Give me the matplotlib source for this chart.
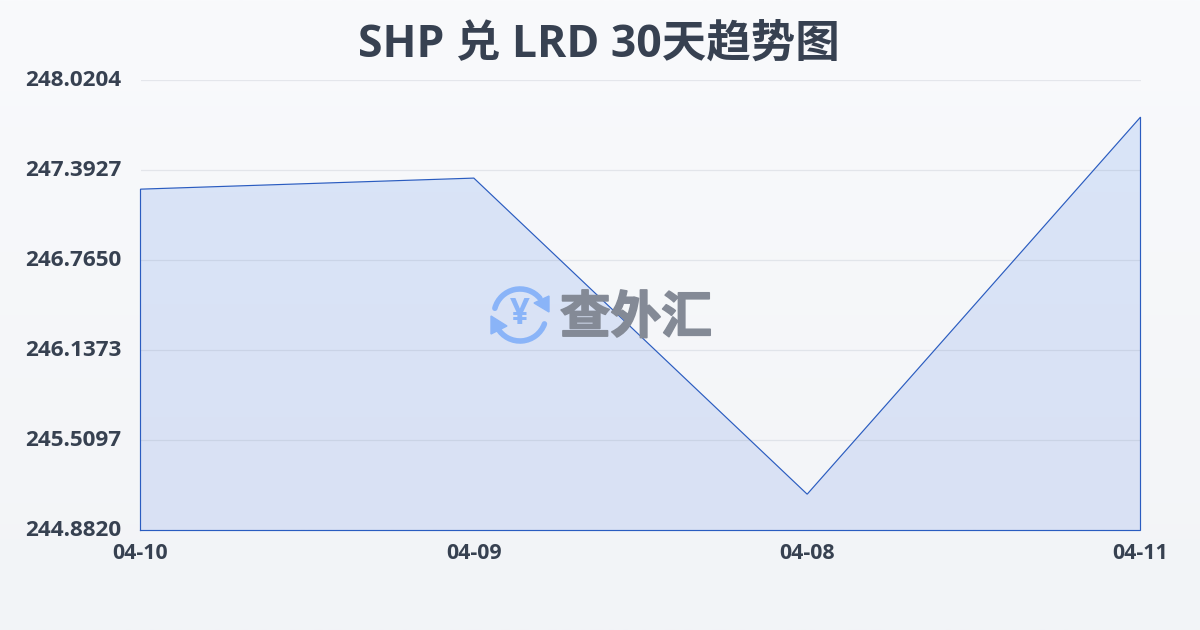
import numpy as np
import matplotlib
matplotlib.use("Agg")
import matplotlib.pyplot as plt
import matplotlib.patheffects as pe
from matplotlib.patches import Arc, Polygon

plt.rcParams['font.family'] = ['Open Sans', 'Noto Sans CJK SC', 'DejaVu Sans']

title = "SHP 兑 LRD 30天趋势图"
dates = ["04-10", "04-09", "04-08", "04-11"]
values = [247.26, 247.337, 245.135, 247.762]
y_ticks = [244.8820, 245.5097, 246.1373, 246.7650, 247.3927, 248.0204]
y_labels = ["244.8820", "245.5097", "246.1373", "246.7650", "247.3927", "248.0204"]

W, H = 1200, 630
fig = plt.figure(figsize=(W / 100, H / 100), dpi=100)

bg = fig.add_axes([0, 0, 1, 1], zorder=0)
bg.imshow(np.linspace(0, 1, 256).reshape(-1, 1), aspect='auto', extent=[0, 1, 0, 1],
          cmap=matplotlib.colors.LinearSegmentedColormap.from_list('bg', ['#f9fafc', '#f2f4f7']))
bg.axis('off')

L, R, T, B = 140.5, 1140.5, 80.0, 530.5
ax = fig.add_axes([L / W, 1 - B / H, (R - L) / W, (B - T) / H], zorder=1)
ax.patch.set_alpha(0)
x = np.arange(len(dates))

grad = ax.imshow(np.linspace(0, 1, 256).reshape(-1, 1), aspect='auto',
                 extent=[0, len(dates) - 1, y_ticks[0], y_ticks[-1]],
                 cmap=matplotlib.colors.LinearSegmentedColormap.from_list('fill', ['#dae5f8', '#d9e1f4']),
                 zorder=1)
verts = np.vstack([[x[0], y_ticks[0]], np.column_stack([x, values]), [x[-1], y_ticks[0]], [x[0], y_ticks[0]]])
clip = Polygon(verts, closed=True, transform=ax.transData, fc='none', ec='none')
ax.add_patch(clip)
grad.set_clip_path(clip)
ax.set_xlim(0, len(dates) - 1)
ax.set_ylim(y_ticks[0], y_ticks[-1])

ax.plot(verts[:, 0], verts[:, 1], color='#2a5cc0', lw=0.85, zorder=3, clip_on=False, solid_joinstyle='miter')

ax.set_yticks(y_ticks, y_labels)
ax.set_xticks(x, dates)
ax.grid(axis='y', color='#8a94a6', alpha=0.18, lw=0.9, zorder=2)
ax.set_axisbelow(False)
for s in ax.spines.values():
    s.set_visible(False)
ax.tick_params(length=0)
ax.tick_params(axis='y', pad=14, labelsize=16.2, labelcolor='#374151')
ax.tick_params(axis='x', pad=9, labelsize=15.4, labelcolor='#374151')
for t in ax.get_yticklabels():
    t.set_fontweight('bold')
    t.set_transform(t.get_transform() + matplotlib.transforms.ScaledTranslation(0, 2 / 100, fig.dpi_scale_trans))
for t in ax.get_xticklabels():
    t.set_fontweight('bold')

fig.text(599 / W, 1 - 45.5 / H, title, ha='center', va='center', fontsize=32,
         fontweight='bold', color='#374151')

ov = fig.add_axes([0, 0, 1, 1], zorder=5)
ov.set_xlim(0, W)
ov.set_ylim(H, 0)
ov.axis('off')
ov.patch.set_alpha(0)
blue = '#8ab4f8'
cx, cy, r = 520, 315, 26
ov.add_patch(Arc((cx, cy), 2 * r, 2 * r, theta1=195, theta2=320, color=blue, lw=4, capstyle='round'))
ov.add_patch(Arc((cx, cy), 2 * r, 2 * r, theta1=20, theta2=150, color=blue, lw=4, capstyle='round'))
ov.add_patch(Polygon([[549, 296], [549, 312], [534, 303]], closed=True, fc=blue, ec=blue, lw=1))
ov.add_patch(Polygon([[491, 316], [491, 334], [507, 326]], closed=True, fc=blue, ec=blue, lw=1))
ov.text(cx, cy, "¥", ha='center', va='center', fontsize=25, fontweight='bold', color=blue,
        family=['Open Sans', 'DejaVu Sans'])
ov.text(636, 318.5, "查外汇", ha='center', va='center', fontsize=36.5, fontweight='bold',
        family=['Noto Sans CJK SC', 'DejaVu Sans'], color='#848a96',
        path_effects=[pe.withStroke(linewidth=1.2, foreground='#848a96')])

fig.savefig('out.png', dpi=100)
